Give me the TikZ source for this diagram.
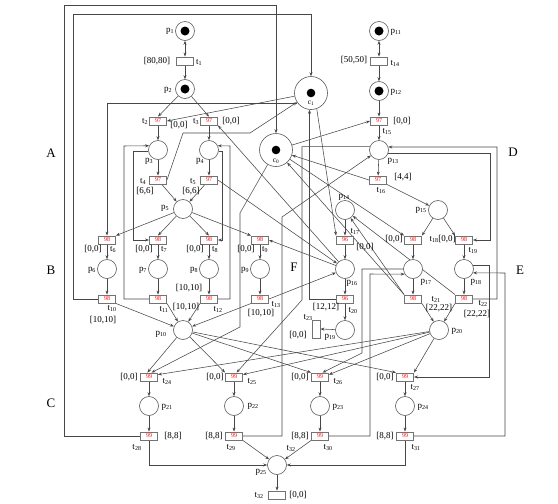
\documentclass[tikz,border=0pt]{standalone}
\usepackage{fontspec}
\setmainfont{Liberation Serif}
\usetikzlibrary{arrows.meta}
\pgfdeclarelayer{bg}
\pgfsetlayers{bg,main}
\newcommand{\lbp}[1]{p\textsubscript{#1}}
\newcommand{\lbt}[1]{t\textsubscript{#1}}
\begin{document}
\begin{tikzpicture}[x=1pt,y=-1pt,
  arc/.style={draw=black!72, line width=0.55pt, -{Stealth[length=4pt,width=3pt]}},
  arcb/.style={draw=black!72, line width=0.55pt, {Stealth[length=4pt,width=3pt]}-{Stealth[length=4pt,width=3pt]}},
  pl/.style={circle, draw=black!65, line width=0.6pt, minimum size=19pt, inner sep=0pt, fill=white},
  ctl/.style={circle, draw=black!65, line width=0.6pt, minimum size=33pt, inner sep=0pt, fill=white},
  tr/.style={rectangle, draw=black!55, line width=0.9pt, minimum width=17pt, minimum height=8pt, inner sep=0pt, fill=white, font=\fontsize{6}{6}\selectfont, text=red},
  lb/.style={font=\fontsize{9}{10}\selectfont, inner sep=0pt},
  reg/.style={font=\fontsize{13}{13}\selectfont, inner sep=0pt}]
\useasboundingbox (0,0) rectangle (558,504);
% ---------- places ----------
\node[pl] (p1) at (185,31) {};
\node[pl] (p2) at (185,89) {};
\node[pl] (p11) at (379,31) {};
\node[pl] (p12) at (379,91) {};
\foreach \n in {p1,p2,p11,p12} \fill[black] (\n.center) circle (4.5pt);
\node[ctl] (c1) at (311,93) {};
\node[ctl] (c0) at (276,150) {};
\fill[black] (c1.center) circle (4.3pt);
\fill[black] (c0.center) circle (4.3pt);
\node[font=\fontsize{7.5}{7.5}\selectfont, inner sep=0pt] (Lc1) at (311,103) {c\textsubscript{1}};
\node[font=\fontsize{7.5}{7.5}\selectfont, inner sep=0pt] (Lc0) at (276,161) {c\textsubscript{0}};
\node[pl] (p3) at (158,150) {};
\node[pl] (p4) at (209,150) {};
\node[pl] (p13) at (379,150) {};
\node[pl] (p5) at (183,209) {};
\node[pl] (p14) at (345,210) {};
\node[pl] (p15) at (438,210) {};
\node[pl] (p6) at (107,269) {};
\node[pl] (p7) at (158,269) {};
\node[pl] (p8) at (209,269) {};
\node[pl] (p9) at (260,269) {};
\node[pl] (p16) at (345,269) {};
\node[pl] (p17) at (413,269) {};
\node[pl] (p18) at (464,269) {};
\node[pl] (p10) at (183,330) {};
\node[pl] (p19) at (345,330) {};
\node[pl] (p20) at (439,330) {};
\node[pl] (p21) at (149,406) {};
\node[pl] (p22) at (234,406) {};
\node[pl] (p23) at (320,406) {};
\node[pl] (p24) at (405,406) {};
\node[pl] (p25) at (277,465) {};
% ---------- transitions ----------
\node[tr] (t1) at (185,61) {};
\node[tr] (t14) at (379,61) {};
\node[tr] (t2) at (158,121) {97};
\node[tr] (t3) at (209,121) {97};
\node[tr] (t15) at (379,121) {97};
\node[tr] (t4) at (158,180) {97};
\node[tr] (t5) at (209,180) {97};
\node[tr] (t16) at (378,180) {97};
\node[tr] (t6) at (107,240) {98};
\node[tr] (t7) at (158,240) {98};
\node[tr] (t8) at (209,240) {98};
\node[tr] (t9) at (260,240) {98};
\node[tr] (t17) at (345,240) {96};
\node[tr] (t18) at (413,240) {98};
\node[tr] (t19) at (464,240) {98};
\node[tr] (t10) at (107,299) {98};
\node[tr] (t11) at (158,299) {98};
\node[tr] (t12) at (209,299) {98};
\node[tr] (t13) at (260,299) {98};
\node[tr] (t20) at (345,299) {96};
\node[tr] (t21) at (413,299) {98};
\node[tr] (t22) at (464,299) {98};
\node[tr, minimum width=8pt, minimum height=18pt] (t23) at (316,329) {};
\node[tr] (t24) at (149,377) {99};
\node[tr] (t25) at (234,377) {99};
\node[tr] (t26) at (320,377) {99};
\node[tr] (t27) at (405,377) {99};
\node[tr] (t28) at (149,436) {99};
\node[tr] (t29) at (234,436) {99};
\node[tr] (t30) at (320,436) {99};
\node[tr] (t31) at (405,436) {99};
\node[tr] (t32) at (277,495) {};
% ---------- labels ----------
\node[lb] (Lp1) at (170,31) {\lbp{1}};
\node[lb] (Lp2) at (168,90) {\lbp{2}};
\node[lb] (Lp11) at (396,32) {\lbp{11}};
\node[lb] (Lp12) at (396,92) {\lbp{12}};
\node[lb] (Lt1a) at (157,61) {[80,80]};
\node[lb] (Lt1) at (199,62) {\lbt{1}};
\node[lb] (Lt14a) at (354,60) {[50,50]};
\node[lb] (Lt14) at (395,63) {\lbt{14}};
\node[lb] (Lt2) at (145,121) {\lbt{2}};
\node[lb] (Lt2a) at (179,125) {[0,0]};
\node[lb] (Lt3) at (196,121) {\lbt{3}};
\node[lb] (Lt3a) at (231,121) {[0,0]};
\node[lb] (Lt15a) at (402,121) {[0,0]};
\node[lb] (Lt15) at (387,131) {\lbt{15}};
\node[lb] (Lp13) at (393,161) {\lbp{13}};
\node[lb] (Lp3) at (149,161) {\lbp{3}};
\node[lb] (Lp4) at (200,161) {\lbp{4}};
\node[lb] (Lt4) at (143,181) {\lbt{4}};
\node[lb] (Lt4a) at (145,191) {[6,6]};
\node[lb] (Lt5) at (193,181) {\lbt{5}};
\node[lb] (Lt5a) at (191,191) {[6,6]};
\node[lb] (Lt16a) at (403,177) {[4,4]};
\node[lb] (Lt16) at (381,190) {\lbt{16}};
\node[lb] (Lp5) at (165,208) {\lbp{5}};
\node[lb] (Lp14) at (344,197) {\lbp{14}};
\node[lb] (Lp15) at (421,210) {\lbp{15}};
\node[lb] (Lt6a) at (93,249) {[0,0]};
\node[lb] (Lt6) at (113,249) {\lbt{6}};
\node[lb] (Lt7a) at (144,249) {[0,0]};
\node[lb] (Lt7) at (164,249) {\lbt{7}};
\node[lb] (Lt8a) at (195,249) {[0,0]};
\node[lb] (Lt8) at (215,249) {\lbt{8}};
\node[lb] (Lt9a) at (246,249) {[0,0]};
\node[lb] (Lt9) at (265,249) {\lbt{9}};
\node[lb] (Lt17) at (355,231) {\lbt{17}};
\node[lb] (Lt17a) at (365,247) {[0,0]};
\node[lb] (Lt18a) at (394,239) {[0,0]};
\node[lb] (Lt18) at (434,239) {\lbt{18}};
\node[lb] (Lt19a) at (447,239) {[0,0]};
\node[lb] (Lt19) at (473,250) {\lbt{19}};
\node[lb] (Lp6) at (92,270) {\lbp{6}};
\node[lb] (Lp7) at (143,270) {\lbp{7}};
\node[lb] (Lp8) at (194,270) {\lbp{8}};
\node[lb] (Lp9) at (245,270) {\lbp{9}};
\node[lb] (Lp16) at (352,283) {\lbp{16}};
\node[lb] (Lp17) at (426,282) {\lbp{17}};
\node[lb] (Lp18) at (476,282) {\lbp{18}};
\node[lb] (Lt10) at (112,308) {\lbt{10}};
\node[lb] (Lt10a) at (103,320) {[10,10]};
\node[lb] (Lt11) at (164,309) {\lbt{11}};
\node[lb] (Lt11a) at (186,307) {[10,10]};
\node[lb] (Lt12a) at (189,288) {[10,10]};
\node[lb] (Lt12) at (218,309) {\lbt{12}};
\node[lb] (Lt13) at (276,304) {\lbt{13}};
\node[lb] (Lt13a) at (261,313) {[10,10]};
\node[lb] (Lt20a) at (326,307) {[12,12]};
\node[lb] (Lt20) at (353,310) {\lbt{20}};
\node[lb] (Lt21) at (436,299) {\lbt{21}};
\node[lb] (Lt21a) at (439,308) {[22,22]};
\node[lb] (Lt22) at (483,303) {\lbt{22}};
\node[lb] (Lt22a) at (477,314) {[22,22]};
\node[lb] (Lp10) at (161,334) {\lbp{10}};
\node[lb] (Lp19) at (330,337) {\lbp{19}};
\node[lb] (Lp20) at (457,331) {\lbp{20}};
\node[lb] (Lt23) at (308,317) {\lbt{23}};
\node[lb] (Lt23a) at (298,335) {[0,0]};
\node[lb] (Lt24a) at (129,377) {[0,0]};
\node[lb] (Lt24) at (167,381) {\lbt{24}};
\node[lb] (Lt25a) at (215,377) {[0,0]};
\node[lb] (Lt25) at (252,381) {\lbt{25}};
\node[lb] (Lt26a) at (300,377) {[0,0]};
\node[lb] (Lt26) at (338,381) {\lbt{26}};
\node[lb] (Lt27a) at (385,377) {[0,0]};
\node[lb] (Lt27) at (415,387) {\lbt{27}};
\node[lb] (Lp21) at (167,407) {\lbp{21}};
\node[lb] (Lp22) at (253,406) {\lbp{22}};
\node[lb] (Lp23) at (338,407) {\lbp{23}};
\node[lb] (Lp24) at (423,407) {\lbp{24}};
\node[lb] (Lt28a) at (173,436) {[8,8]};
\node[lb] (Lt28) at (137,447) {\lbt{28}};
\node[lb] (Lt29a) at (214,436) {[8,8]};
\node[lb] (Lt29) at (231,447) {\lbt{29}};
\node[lb] (Lt30a) at (300,436) {[8,8]};
\node[lb] (Lt30) at (328,447) {\lbt{30}};
\node[lb] (Lt31a) at (385,436) {[8,8]};
\node[lb] (Lt31) at (416,447) {\lbt{31}};
\node[lb] (Lx32) at (291,448) {\lbt{32}};
\node[lb] (Lp25) at (261,472) {\lbp{25}};
\node[lb] (Lt32) at (259,495) {\lbt{32}};
\node[lb] (Lt32a) at (298,495) {[0,0]};
\node[reg] (RA) at (51,153) {A};
\node[reg] (RB) at (51,270) {B};
\node[reg] (RC) at (51,403) {C};
\node[reg] (RD) at (513,152) {D};
\node[reg] (RE) at (520,270) {E};
\node[reg] (RF) at (294,267) {F};
% ---------- arcs ----------
\begin{pgfonlayer}{bg}
% region A / B
\draw[arcb] (p1) -- (t1);
\draw[arc] (t1) -- (p2);
\draw[arc] (p2) -- (t2.north);
\draw[arc] (p2) -- (t3.north);
\draw[arc] (c1) -- (t2.east);
\draw[arc] (t2) -- (p3);
\draw[arc] (t3) -- (p4);
\draw[arc] (p3) -- (t4);
\draw[arc] (p4) -- (t5);
\draw[arc] (t4.east) -- (183,133) -- (250,133) -- (c1);
\draw[arc] (t4) -- (p5);
\draw[arc] (t5) -- (p5);
\draw[arc] (p3.186) -| (133,240) -- (t7.west);
\draw[arc] (t11.west) -| (124,146) -- (p3.154);
\draw[arc] (p4.-6) -| (222,240) -- (t8.east);
\draw[arc] (t12.east) -| (230,146) -- (p4.26);
\draw[arc] (c1.216) -| (t6.north);
\draw[arc] (t10.west) -| (73,14) -| (c1.north);
\draw[arc] (t28.west) -| (64,5) -| (c0.north);
\draw[arc] (p5) -- (t6.north east);
\draw[arc] (p5) -- (t7.north);
\draw[arc] (p5) -- (t8.north);
\draw[arc] (p5) -- (t9.north west);
\draw[arc] (t6) -- (p6);
\draw[arc] (t7) -- (p7);
\draw[arc] (t8) -- (p8);
\draw[arc] (t9) -- (p9);
\draw[arc] (p6) -- (t10);
\draw[arc] (p7) -- (t11);
\draw[arc] (p8) -- (t12);
\draw[arc] (p9) -- (t13);
\draw[arc] (t10.south east) -- (p10);
\draw[arc] (t11.south east) -- (p10);
\draw[arc] (t12.south west) -- (p10);
\draw[arc] (t13.south west) -- (p10);
\draw[arc] (p16) -- (t9.east);
\draw[arc] (t13.east) -- (p16);
\draw[arc] (t5.east) -- (p16);
\draw[arc] (p16) -- (t3.south east);
% region C
\draw[arc] (p10) -- (t24.110);
\draw[arc] (p10) -- (t25.north west);
\draw[arc] (p10) -- (t26.north west);
\draw[arc] (p10) -- (t27.north west);
\draw[arc] (p20) -- (t24.15);
\draw[arc] (p20) -- (t25.15);
\draw[arc] (p20) -- (t26.15);
\draw[arc] (p20) -- (t27.north east);
\draw[arc] (c0) -- (240,213) -- (240,327) -- (t24.60);
\draw[arc] (p13.160) -| (302,300) -- (t25.60);
\draw[arc] (t29.east) -| (282,217) -- (p13);
\draw[arc] (p17.west) -| (362,353) -- (t26.60);
\draw[arc] (t30.east) -| (370,274) -- (p17.212);
\draw[arc] (p18.20) -| (489,377) -- (t27.east);
\draw[arc] (t31.east) -| (505,273) -- (p18.-23);
\draw[arc] (p13.-20) -| (490,240) -- (t19.east);
\draw[arc] (t22.east) -| (497,147) -- (p13.18);
\draw[arc] (t24) -- (p21);
\draw[arc] (t25) -- (p22);
\draw[arc] (t26) -- (p23);
\draw[arc] (t27) -- (p24);
\draw[arc] (p21) -- (t28);
\draw[arc] (p22) -- (t29);
\draw[arc] (p23) -- (t30);
\draw[arc] (p24) -- (t31);
\draw[arc] (t28.south) |- (p25.west);
\draw[arc] (t29.south east) -- (p25);
\draw[arc] (t30.south west) -- (p25);
\draw[arc] (t31.south) |- (p25.east);
\draw[arc] (p25) -- (t32);
% region D
\draw[arcb] (p11) -- (t14);
\draw[arc] (t14) -- (p12);
\draw[arc] (p12) -- (t15);
\draw[arc] (t15) -- (p13);
\draw[arc] (p13) -- (t16);
\draw[arc] (c0) -- (t15.west);
\draw[arc] (t16.west) -- (c0);
\draw[arc] (t16.south east) -- (p15);
\draw[arc] (p15) -- (t18.north east);
\draw[arc] (p15) -- (t19.north west);
\draw[arc] (c0) -- (t18.north west);
% region E
\draw[arc] (t18) -- (p17);
\draw[arc] (t19) -- (p18);
\draw[arc] (p17) -- (t21);
\draw[arc] (p18) -- (t22);
\draw[arc] (t21.south east) -- (p20);
\draw[arc] (t22.south west) -- (p20);
\draw[arc] (t21.north west) -- (c0);
\draw[arc] (t21.north west) -- (p14);
\draw[arc] (t22.north west) -- (p14);
% region F
\draw[arc] (p14) -- (t17);
\draw[arc] (t17) -- (p16);
\draw[arc] (p16) -- (t20);
\draw[arc] (t20) -- (p19);
\draw[arc] (p19) -- (t23.east);
\draw[arc] (c1.-70) -- (t17.north west);
\draw[arc] (t20.west) -| (c1.265);
\end{pgfonlayer}
\end{tikzpicture}
\end{document}
